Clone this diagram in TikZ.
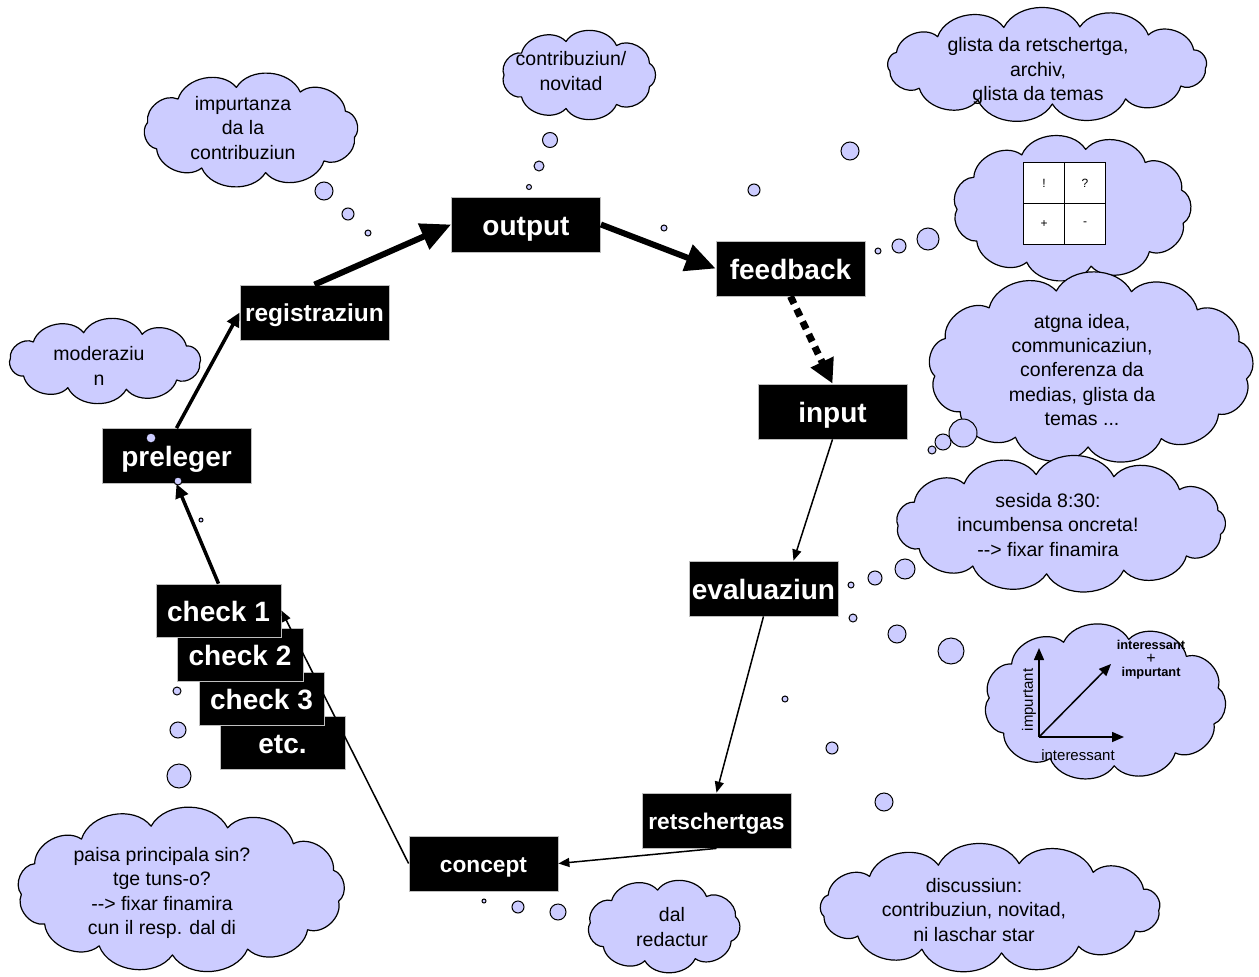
\documentclass[tikz,border=0pt]{standalone}
\usepackage{fontspec}
\setmainfont{Liberation Sans}
\usetikzlibrary{arrows.meta}
\definecolor{lav}{RGB}{204,204,255}
\newcommand\drawcloud[6]{%
 \draw[cloudst] ({#1+#3*cos(#6)},{#2+#4*sin(#6)})
 \foreach \k in {1,...,#5}{ to[bend left=62] ({#1+#3*cos(#6+360*\k/#5)},{#2+#4*sin(#6+360*\k/#5)}) } -- cycle;}
\begin{document}
\begin{tikzpicture}[x=1pt,y=-1pt,
 box/.style={fill=black,draw=gray!50,line width=0.8pt,text=white,font=\bfseries\fontsize{28}{30}\selectfont,minimum width=149pt,minimum height=55pt,inner sep=0pt,text height=22pt,text depth=1pt},
 boxs/.style={box,font=\bfseries\fontsize{22.7}{24}\selectfont,text height=18pt,text depth=1pt},
 cloudst/.style={draw=black,fill=lav,line width=1.2pt,line join=round},
 ct/.style={align=center,font=\fontsize{19.5}{24.3}\selectfont,inner sep=0pt},
 bub/.style={circle,draw=black,fill=lav,line width=1pt,inner sep=0pt},
 thickarr/.style={line width=6pt,-{Triangle[length=30pt,width=27pt]}},
 medarr/.style={line width=3.5pt,-{Triangle[length=14pt,width=13pt]}},
 thinarr/.style={line width=1.5pt,-{Triangle[length=11pt,width=9pt]}},
 cell/.style={draw=black,fill=white,line width=0.8pt,minimum size=41pt,inner sep=0pt,font=\fontsize{12}{12}\selectfont}
]
\useasboundingbox (0,0) rectangle (1259,977);
% clouds
\drawcloud{251}{130}{105}{43}{10}{10}
\node[ct] (t1) at (243,128) {impurtanza\\da la\\contribuziun};
\drawcloud{579}{75}{75}{34}{9}{20}
\node[ct] (t2) at (571,71) {contribuziun/\\novitad};
\drawcloud{1047}{65}{159}{39}{13}{5}
\node[ct] (t3) at (1038,71) {glista da retschertga,\\archiv,\\glista da temas};
\drawcloud{1072}{208}{115}{59}{11}{15}
\drawcloud{1091}{368}{157}{79}{13}{8}
\node[ct] (t5) at (1082,370) {atgna idea,\\communicaziun,\\conferenza da\\medias, glista da\\temas ...};
\drawcloud{1061}{524}{163}{50}{13}{12}
\node[ct] (t6) at (1048,525) {sesida 8:30:\\incumbensa oncreta!\\-{}-> fixar finamira};
\drawcloud{1105}{702}{116}{64}{11}{20}
\drawcloud{990}{908}{169}{45}{13}{3}
\node[ct] (t8) at (974,910) {discussiun:\\contribuziun, novitad,\\ni laschar star};
\drawcloud{664}{926}{74}{36}{9}{25}
\node[ct] (t9) at (672,927) {dal\\redactur};
\drawcloud{181}{890}{160}{65}{13}{10}
\node[ct] (t10) at (162,893) {paisa principala sin?\\tge tuns-o?\\-{}-> fixar finamira\\cun il resp. dal di};
\drawcloud{105}{361}{95}{29}{10}{5}
\node[ct] (t11) at (99,366) {moderaziu\\n};
% matrix
\node[cell] (m1) at (1044,183) {!};
\node[cell] (m2) at (1085,183) {?};
\node[cell] (m3) at (1044,224) {+};
\node[cell] (m4) at (1085,224) {-};
% graph
\coordinate (o) at (1039,737);
\coordinate (gy) at (1039,648);
\coordinate (gx) at (1124,737);
\coordinate (gd) at (1111,664);
\draw[line width=1.5pt,-{Triangle[length=12pt,width=10pt]}] (o) -- (gy);
\draw[line width=1.5pt,-{Triangle[length=12pt,width=10pt]}] (o) -- (gx);
\draw[line width=1.5pt,-{Triangle[length=12pt,width=10pt]}] (o) -- (gd);
\node[rotate=90,font=\fontsize{15}{15}\selectfont] (lim) at (1029,700) {impurtant};
\node[font=\fontsize{15}{15}\selectfont] (lin) at (1078,755) {interessant};
\node[align=center,font=\bfseries\fontsize{12.8}{13.5}\selectfont] (lboth) at (1151,660) {interessant\\{\mdseries\fontsize{16}{13.5}\selectfont +}\\impurtant};
% bubbles
\node[bub,minimum size=18pt] (b1) at (324,191) {};
\node[bub,minimum size=12pt] (b2) at (348,214) {};
\node[bub,minimum size=6pt] (b3) at (368,233) {};
\node[bub,minimum size=15pt] (b4) at (550,140) {};
\node[bub,minimum size=10pt] (b5) at (539,166) {};
\node[bub,minimum size=5pt] (b6) at (529,187) {};
\node[bub,minimum size=6pt] (b7) at (664,228) {};
\node[bub,minimum size=12pt] (b8) at (754,190) {};
\node[bub,minimum size=18pt] (b9) at (850,151) {};
\node[bub,minimum size=6pt] (b10) at (878,251) {};
\node[bub,minimum size=14pt] (b11) at (899,246) {};
\node[bub,minimum size=22pt] (b12) at (928,239) {};
\node[bub,minimum size=8pt] (b13) at (932,450) {};
\node[bub,minimum size=16pt] (b14) at (943,442) {};
\node[bub,minimum size=28pt] (b15) at (963,433) {};
\node[bub,minimum size=6pt] (b16) at (851,585) {};
\node[bub,minimum size=14pt] (b17) at (875,578) {};
\node[bub,minimum size=20pt] (b18) at (905,569) {};
\node[bub,minimum size=8pt] (b19) at (853,618) {};
\node[bub,minimum size=18pt] (b20) at (897,634) {};
\node[bub,minimum size=26pt] (b21) at (951,651) {};
\node[bub,minimum size=6pt] (b22) at (785,699) {};
\node[bub,minimum size=12pt] (b23) at (832,748) {};
\node[bub,minimum size=18pt] (b24) at (884,802) {};
\node[bub,minimum size=8pt] (b28) at (177,691) {};
\node[bub,minimum size=16pt] (b29) at (178,730) {};
\node[bub,minimum size=24pt] (b30) at (179,776) {};
\node[bub,minimum size=4pt] (b31) at (484,901) {};
\node[bub,minimum size=12pt] (b32) at (518,907) {};
\node[bub,minimum size=16pt] (b33) at (558,912) {};
% boxes
\node[box] (out) at (526,224.5) {output};
\node[box] (fb) at (790.5,268.5) {feedback};
\node[box] (inp) at (832.5,411.5) {input};
\node[box] (ev) at (763.5,588.5) {evaluaziun};
\node[boxs] (ret) at (716.5,820.5) {retschertgas};
\node[boxs] (con) at (483.5,863.5) {concept};
\node[box,font=\bfseries\fontsize{24.5}{26}\selectfont,text height=19.5pt,text depth=1pt] (reg) at (314.5,312.5) {registraziun};
\node[box] (pre) at (176.5,456) {preleger};
\node[box,minimum width=125pt,minimum height=53pt] (etc) at (282.5,742.5) {etc.};
\node[box,minimum width=125pt,minimum height=53pt] (ch3) at (261.5,698.5) {check 3};
\node[box,minimum width=126pt,minimum height=53pt] (ch2) at (240,654.5) {check 2};
\node[box,minimum width=125pt,minimum height=53pt] (ch1) at (218.5,610.5) {check 1};
% bubbles on preleger
\node[bub,minimum size=10pt] (b25) at (151,438) {};
\node[bub,minimum size=8pt] (b26) at (178,481) {};
\node[bub,minimum size=4pt] (b27) at (201,520) {};
% connectors
\draw[thickarr] (reg.north) -- (out.west);
\draw[thickarr] (out.east) -- (fb.west);
\draw[line width=7pt,dash pattern=on 8pt off 6pt,-{Triangle[length=24pt,width=24pt]}] (fb.south) -- (inp.north);
\draw[thinarr] (inp.south) -- ([xshift=30pt]ev.north);
\draw[thinarr] (ev.south) -- (ret.north);
\draw[thinarr] (ret.south) -- (con.east);
\draw[thinarr] (con.west) -- (ch1.east);
\draw[medarr] (ch1.north) -- (pre.south);
\draw[medarr] (pre.north) -- (reg.west);
\end{tikzpicture}
\end{document}
